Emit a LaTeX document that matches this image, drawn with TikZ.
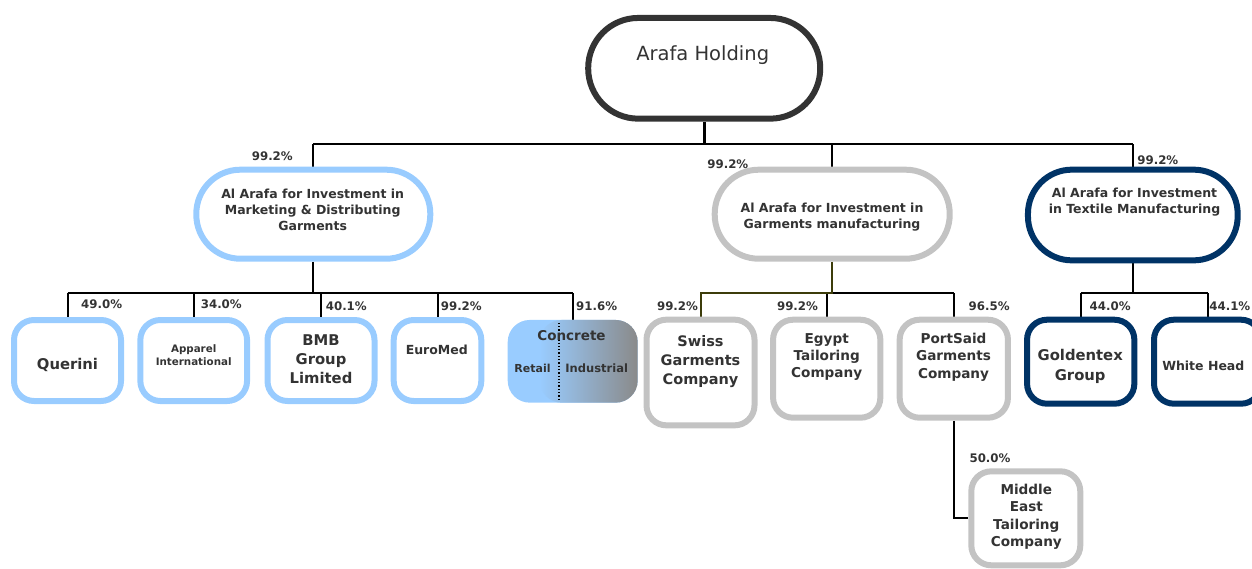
\documentclass[tikz,border=0pt]{standalone}
\usepackage{fontspec}
\setmainfont{DejaVu Sans}
\newfontfamily\vb{DejaVu Sans}
\usetikzlibrary{backgrounds}
\definecolor{lblue}{RGB}{153,204,255}
\definecolor{lgray}{RGB}{195,195,195}
\definecolor{dblue}{RGB}{0,51,102}
\definecolor{holdc}{RGB}{51,51,51}
\definecolor{tc}{RGB}{51,51,51}
\definecolor{cgray}{RGB}{138,138,138}
\definecolor{olivec}{RGB}{60,60,10}
\begin{document}
\begin{tikzpicture}[x=1pt,y=-1pt,
  conn/.style={line width=2pt, draw=black},
  boxbase/.style={line width=6pt, fill=white, inner sep=0pt},
  hbox/.style={boxbase, draw=holdc, rounded corners=50pt},
  midbox/.style={boxbase, rounded corners=44pt},
  cbox/.style={boxbase, rounded corners=20pt},
  txt/.style={text=tc, align=center, inner sep=0pt},
  midtxt/.style={txt, font=\vb\bfseries\fontsize{12.5}{16}\selectfont},
  pct/.style={text=tc, inner sep=0pt, font=\vb\bfseries\fontsize{11.8}{13}\selectfont},
  divider/.style={dotted, line width=1.3pt, draw=black}
]
\useasboundingbox (0,0) rectangle (1252,568);

% top node
\node[hbox, minimum width=232, minimum height=100.7] (hold) at (704.2,68.3) {};
\node[txt, font=\fontsize{19.5}{23}\selectfont] (holdt) at (702.7,55) {Arafa Holding};

% middle level
\node[midbox, draw=lblue, minimum width=234, minimum height=89] (mL) at (313.3,214.2) {};
\node[midtxt] (mLt) at (312.7,209.5) {Al Arafa for Investment in\\Marketing \& Distributing\\Garments};
\node[midbox, draw=lgray, minimum width=235, minimum height=89] (mM) at (832.2,214.2) {};
\node[midtxt] (mMt) at (832,217.5) {Al Arafa for Investment in\\Garments manufacturing};
\node[midbox, draw=dblue, minimum width=209.7, minimum height=90.7] (mR) at (1132.8,215) {};
\node[midtxt] (mRt) at (1134.5,201.7) {Al Arafa for Investment\\in Textile Manufacturing};

% left children
\node[cbox, draw=lblue, minimum width=107, minimum height=81] (q) at (67.5,360.5) {};
\node[txt, font=\vb\bfseries\fontsize{14.8}{19}\selectfont] (qt) at (67.5,365) {Querini};
\node[cbox, draw=lblue, minimum width=106.7, minimum height=81] (ap) at (193.7,360.5) {};
\node[txt, font=\vb\bfseries\fontsize{10.3}{13}\selectfont] (apt) at (193.7,354.7) {Apparel\\International};
\node[cbox, draw=lblue, minimum width=107, minimum height=81] (bmb) at (321,360.5) {};
\node[txt, font=\vb\bfseries\fontsize{14.8}{19}\selectfont] (bmbt) at (321,359.4) {BMB\\Group\\Limited};
\node[cbox, draw=lblue, minimum width=87.6, minimum height=81] (em) at (437.5,360.5) {};
\node[txt, font=\vb\bfseries\fontsize{12.5}{14}\selectfont] (emt) at (436.8,350) {EuroMed};
\node[inner sep=0pt, minimum width=130, minimum height=82.7, rounded corners=22pt,
  path picture={
    \fill[lblue] (path picture bounding box.north west) rectangle (path picture bounding box.south east);
    \shade[left color=lblue, right color=cgray] ([xshift=32pt]path picture bounding box.north west) rectangle (path picture bounding box.south east);
  }] (conc) at (572.7,361.3) {};
\draw[divider] ([xshift=-13.7pt,yshift=-3pt]conc.north) -- ([xshift=-13.7pt,yshift=2pt]conc.south);
\node[txt, font=\vb\bfseries\fontsize{13.5}{15}\selectfont] (conct) at (571.5,336) {Concrete};
\node[txt, font=\vb\bfseries\fontsize{11}{12}\selectfont] (cret) at (532.5,368) {Retail};
\node[txt, font=\vb\bfseries\fontsize{11.5}{12}\selectfont] (cind) at (596.7,368) {Industrial};

% middle children
\node[cbox, draw=lgray, minimum width=108, minimum height=105.7] (sw) at (700.5,372.5) {};
\node[txt, font=\vb\bfseries\fontsize{14.5}{19.2}\selectfont] (swt) at (700.5,361.8) {Swiss\\Garments\\Company};
\node[cbox, draw=lgray, minimum width=107.3, minimum height=98] (eg) at (826.7,368.7) {};
\node[txt, font=\vb\bfseries\fontsize{13.6}{17.2}\selectfont] (egt) at (826.7,357.2) {Egypt\\Tailoring\\Company};
\node[cbox, draw=lgray, minimum width=108.3, minimum height=98] (ps) at (953.8,368.7) {};
\node[txt, font=\vb\bfseries\fontsize{13.6}{17.2}\selectfont] (pst) at (953.5,357.2) {PortSaid\\Garments\\Company};
\node[cbox, draw=lgray, minimum width=109, minimum height=94] (me) at (1025.8,518.3) {};
\node[txt, font=\vb\bfseries\fontsize{13.6}{17.5}\selectfont] (met) at (1026.3,517) {Middle\\East\\Tailoring\\Company};

% right children
\node[cbox, draw=dblue, minimum width=107.3, minimum height=84] (gt) at (1080.7,361.7) {};
\node[txt, font=\vb\bfseries\fontsize{14.8}{19.3}\selectfont] (gtt) at (1080.2,366.3) {Goldentex\\Group};
\node[cbox, draw=dblue, minimum width=107, minimum height=84] (wh) at (1207.5,361.7) {};
\node[txt, font=\vb\bfseries\fontsize{12.5}{14}\selectfont] (wht) at (1203.3,365.7) {White Head};

% percentages
\node[pct] (pL) at (272.3,156.7) {99.2\%};
\node[pct] (pM) at (727.8,164) {99.2\%};
\node[pct] (pR) at (1157.8,160.7) {99.2\%};
\node[pct] (pq) at (101.7,304) {49.0\%};
\node[pct] (pap) at (221.3,304) {34.0\%};
\node[pct] (pbmb) at (346.3,306) {40.1\%};
\node[pct] (pem) at (461.3,306) {99.2\%};
\node[pct] (pconc) at (596.7,306) {91.6\%};
\node[pct] (psw) at (677.5,305.7) {99.2\%};
\node[pct] (peg) at (797.5,305.7) {99.2\%};
\node[pct] (pps) at (989.2,305.7) {96.5\%};
\node[pct] (pme) at (990,458.3) {50.0\%};
\node[pct] (pgt) at (1110.2,306) {44.0\%};
\node[pct] (pwh) at (1229.8,306) {44.1\%};

% connectors
\coordinate (bT) at (0,144);
\coordinate (bL) at (0,293.3);
\begin{pgfonlayer}{background}
\draw[conn, line width=3pt] (hold.south) -- (hold.south |- bT);
\draw[conn] (mL.north |- bT) -- (mR.north |- bT);
\draw[conn] (mL.north |- bT) -- (mL.north);
\draw[conn] (mM.north |- bT) -- (mM.north);
\draw[conn] (mR.north |- bT) -- (mR.north);

\draw[conn] (mL.south) -- (mL.south |- bL);
\draw[conn] (q.north |- bL) -- (conc.north |- bL);
\draw[conn] (q.north |- bL) -- (q.north);
\draw[conn] (ap.north |- bL) -- (ap.north);
\draw[conn] (bmb.north |- bL) -- (bmb.north);
\draw[conn] (em.north |- bL) -- (em.north);
\draw[conn] (conc.north |- bL) -- (conc.north);

\draw[conn] (mM.south |- bL) -- (ps.north |- bL);
\draw[conn] (eg.north |- bL) -- (eg.north);
\draw[conn] (ps.north |- bL) -- (ps.north);
\draw[conn, draw=olivec] (mM.south) -- (mM.south |- bL) -| (sw.north);
\draw[conn] (ps.south) |- (me.west);

\draw[conn] (mR.south) -- (mR.south |- bL);
\draw[conn] (gt.north |- bL) -- (wh.north |- bL);
\draw[conn] (gt.north |- bL) -- (gt.north);
\draw[conn] (wh.north |- bL) -- (wh.north);
\end{pgfonlayer}
\end{tikzpicture}
\end{document}
